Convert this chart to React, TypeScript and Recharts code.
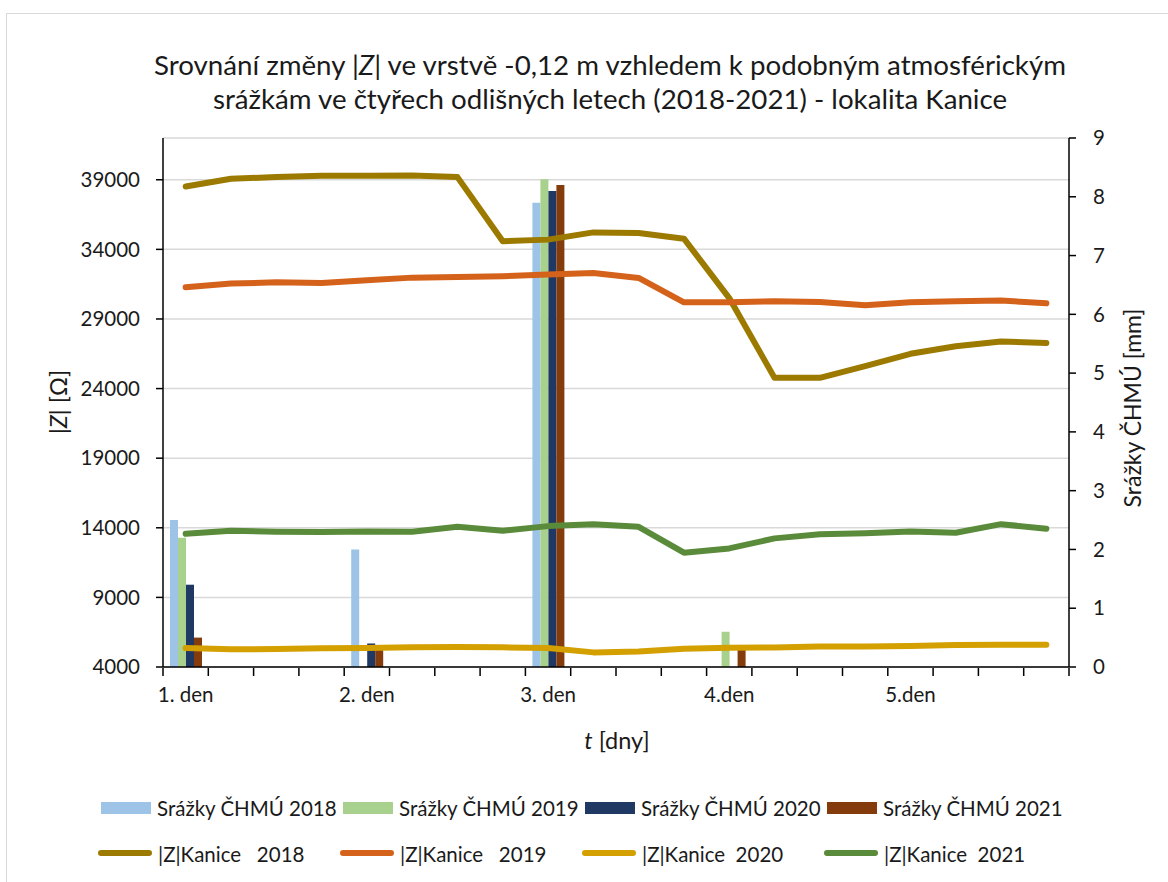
import React from "react";
import {
  ComposedChart,
  Bar,
  Line,
  XAxis,
  YAxis,
  CartesianGrid,
} from "recharts";

// ---- data ----
const dayLabels = [
  "1. den", "", "", "",
  "2. den", "", "", "",
  "3. den", "", "", "",
  "4.den", "", "", "",
  "5.den", "", "", "",
];

const rain2018 = [2.5, 0, 0, 0, 2.0, 0, 0, 0, 7.9, 0, 0, 0, 0, 0, 0, 0, 0, 0, 0, 0];
const rain2019 = [2.2, 0, 0, 0, 0, 0, 0, 0, 8.3, 0, 0, 0, 0.6, 0, 0, 0, 0, 0, 0, 0];
const rain2020 = [1.4, 0, 0, 0, 0.4, 0, 0, 0, 8.1, 0, 0, 0, 0, 0, 0, 0, 0, 0, 0, 0];
const rain2021 = [0.5, 0, 0, 0, 0.3, 0, 0, 0, 8.2, 0, 0, 0, 0.3, 0, 0, 0, 0, 0, 0, 0];

const z2018 = [38520, 39070, 39190, 39290, 39290, 39310, 39190, 34580, 34700, 35220, 35180, 34770, 30500, 24770, 24770, 25610, 26500, 27040, 27380, 27280];
const z2019 = [31280, 31540, 31630, 31590, 31780, 31970, 32020, 32070, 32190, 32300, 31950, 30200, 30200, 30270, 30220, 29990, 30200, 30270, 30320, 30130];
const z2020 = [5360, 5270, 5290, 5340, 5360, 5410, 5430, 5410, 5360, 5050, 5120, 5310, 5380, 5400, 5480, 5480, 5500, 5580, 5600, 5600];
const z2021 = [13570, 13790, 13710, 13690, 13740, 13710, 14070, 13790, 14120, 14260, 14070, 12210, 12520, 13240, 13530, 13600, 13740, 13640, 14260, 13930];

const leftTicks = [4000, 9000, 14000, 19000, 24000, 29000, 34000, 39000];
const rightTicks = [0, 1, 2, 3, 4, 5, 6, 7, 8, 9];
const boundaryTicks = [0, 1, 2, 3, 4, 5, 6, 7, 8, 9, 10, 11, 12, 13, 14, 15, 16, 17, 18, 19, 20];

const barSeries = [
  { key: "p2018", name: "Srážky ČHMÚ 2018", color: "#9DC3E6" },
  { key: "p2019", name: "Srážky ČHMÚ 2019", color: "#A9D18E" },
  { key: "p2020", name: "Srážky ČHMÚ 2020", color: "#203864" },
  { key: "p2021", name: "Srážky ČHMÚ 2021", color: "#843C0C" },
];
const lineSeries = [
  { key: "z2018", name: "|Z|Kanice   2018", color: "#9C7A00" },
  { key: "z2019", name: "|Z|Kanice   2019", color: "#D5621A" },
  { key: "z2020", name: "|Z|Kanice  2020", color: "#D3A000" },
  { key: "z2021", name: "|Z|Kanice  2021", color: "#5A8B3A" },
];

const data = dayLabels.map((label, i) => ({
  idx: i,
  edge: i,
  label,
  p2018: rain2018[i],
  p2019: rain2019[i],
  p2020: rain2020[i],
  p2021: rain2021[i],
  z2018: z2018[i],
  z2019: z2019[i],
  z2020: z2020[i],
  z2021: z2021[i],
}));

const FONT = "Lato, 'Open Sans', sans-serif";
const TXT = "#1a1a1a";
const tickStyle = { fill: TXT, fontSize: 20.5, fontFamily: FONT };

export default function App() {
  return (
    <div
      style={{
        position: "fixed",
        left: 0,
        top: 0,
        width: 1168,
        height: 882,
        background: "#fff",
        overflow: "hidden",
        fontFamily: FONT,
        color: TXT,
      }}
    >
      <div
        style={{
          position: "absolute",
          left: 6,
          top: 13,
          width: 1200,
          height: 900,
          border: "1px solid #d9d9d9",
          boxSizing: "border-box",
        }}
      />
      {/* title */}
      <div
        style={{
          position: "absolute",
          left: 60,
          width: 1100,
          top: 48,
          textAlign: "center",
          fontSize: 27.7,
          lineHeight: "34px",
          whiteSpace: "pre",
        }}
      >
        <div>
          Srovnání změny |<i>Z</i>| ve vrstvě -0,12 m vzhledem k podobným atmosférickým
        </div>
        <div>srážkám ve čtyřech odlišných letech (2018-2021) - lokalita Kanice</div>
      </div>

      <div style={{ position: "absolute", left: 0, top: 0 }}>
        <ComposedChart
          width={1168}
          height={882}
          data={data}
          margin={{ top: 138, right: 0, bottom: 213, left: 0 }}
          barGap={0}
          barCategoryGap={0}
        >
          <CartesianGrid
            xAxisId="cat"
            yAxisId="left"
            vertical={false}
            stroke="#d9d9d9"
            strokeWidth={1.5}
          />
          <XAxis
            xAxisId="cat"
            dataKey="idx"
            type="category"
            height={1}
            interval={0}
            tickFormatter={(i) => dayLabels[i]}
            tick={tickStyle}
            tickLine={false}
            tickSize={8}
            tickMargin={12}
            axisLine={{ stroke: "#000", strokeWidth: 1.5 }}
          />
          <XAxis
            xAxisId="tk"
            dataKey="edge"
            type="number"
            domain={[0, 20]}
            allowDataOverflow
            ticks={boundaryTicks}
            interval={0}
            height={1}
            tickFormatter={() => ""}
            tick={{ fontSize: 1 }}
            tickSize={8}
            axisLine={false}
            tickLine={{ stroke: "#000", strokeWidth: 1.5 }}
          />
          <YAxis
            yAxisId="left"
            width={163}
            domain={[4000, 42000]}
            ticks={leftTicks}
            interval={0}
            tick={tickStyle}
            tickSize={7}
            tickMargin={16}
            axisLine={{ stroke: "#000", strokeWidth: 1.5 }}
            tickLine={{ stroke: "#000", strokeWidth: 1.5 }}
          />
          <YAxis
            yAxisId="right"
            orientation="right"
            width={99}
            domain={[0, 9]}
            ticks={rightTicks}
            interval={0}
            tick={{ ...tickStyle, textAnchor: "start" }}
            tickSize={7}
            tickMargin={17}
            axisLine={{ stroke: "#000", strokeWidth: 1.5 }}
            tickLine={{ stroke: "#000", strokeWidth: 1.5 }}
          />
          {barSeries.map((s) => (
            <Bar
              key={s.key}
              dataKey={s.key}
              name={s.name}
              xAxisId="cat"
              yAxisId="right"
              fill={s.color}
              barSize={8}
              isAnimationActive={false}
            />
          ))}
          {lineSeries.map((s) => (
            <Line
              key={s.key}
              dataKey={s.key}
              name={s.name}
              xAxisId="cat"
              yAxisId="left"
              type="linear"
              stroke={s.color}
              strokeWidth={6}
              strokeLinecap="round"
              strokeLinejoin="round"
              dot={false}
              activeDot={false}
              isAnimationActive={false}
            />
          ))}
        </ComposedChart>
      </div>

      {/* axis titles */}
      <div
        style={{
          position: "absolute",
          left: 58,
          top: 402,
          transform: "translate(-50%, -50%) rotate(-90deg)",
          whiteSpace: "pre",
          fontSize: 23.5,
        }}
      >
        |<i>Z</i>| [Ω]
      </div>
      <div
        style={{
          position: "absolute",
          left: 1132,
          top: 408,
          transform: "translate(-50%, -50%) rotate(-90deg)",
          whiteSpace: "pre",
          fontSize: 23,
        }}
      >
        Srážky ČHMÚ [mm]
      </div>
      <div
        style={{
          position: "absolute",
          left: 617,
          top: 740,
          transform: "translate(-50%, -50%)",
          whiteSpace: "pre",
          fontSize: 23.5,
        }}
      >
        <i>t</i> [dny]
      </div>

      {/* legend */}
      {barSeries.map((s, k) => (
        <React.Fragment key={s.key}>
          <div
            style={{
              position: "absolute",
              left: 101 + 242 * k,
              top: 802,
              width: 50,
              height: 12,
              background: s.color,
            }}
          />
          <div
            style={{
              position: "absolute",
              left: 157 + 242 * k,
              top: 808,
              transform: "translateY(-50%)",
              whiteSpace: "pre",
              fontSize: 20.5,
              lineHeight: "24px",
            }}
          >
            {s.name}
          </div>
        </React.Fragment>
      ))}
      {lineSeries.map((s, k) => (
        <React.Fragment key={s.key}>
          <div
            style={{
              position: "absolute",
              left: 98 + 242 * k,
              top: 850,
              width: 54,
              height: 6,
              borderRadius: 3,
              background: s.color,
            }}
          />
          <div
            style={{
              position: "absolute",
              left: 158 + 242 * k,
              top: 854,
              transform: "translateY(-50%)",
              whiteSpace: "pre",
              fontSize: 20.5,
              lineHeight: "24px",
            }}
          >
            {s.name}
          </div>
        </React.Fragment>
      ))}
    </div>
  );
}
